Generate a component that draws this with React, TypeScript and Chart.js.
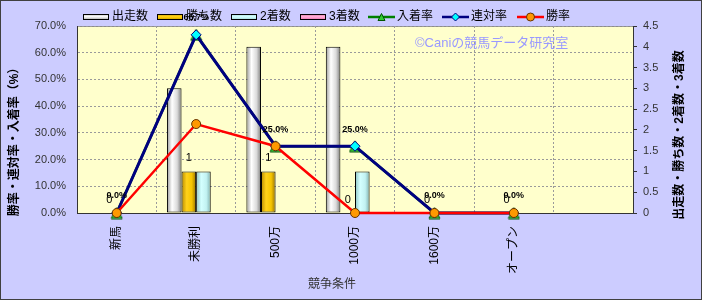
import React, { useEffect, useRef } from 'react';
import { Chart, registerables } from 'chart.js';
Chart.register(...registerables);

// ---- data ----
const categories = ['新馬', '未勝利', '500万', '1000万', '1600万', 'オープン', ''];
const starts = [0, 3, 4, 4, 0, 0];
const wins = [0, 1, 1, 0, 0, 0];
const seconds = [0, 1, 0, 1, 0, 0];
const thirds = [0, 0, 0, 0, 0, 0];
const placeRate = [0, 66.7, 25, 25, 0, 0];
const rentaiRate = [0, 66.7, 25, 25, 0, 0];
const winRate = [0, 33.3, 25, 0, 0, 0];

const barLabels = ['出走数', '勝ち数', '2着数', '3着数'];
const lineLabels = ['入着率', '連対率', '勝率'];
const leftTitle = '勝率・連対率・入着率（%）';
const rightTitle = '出走数・勝ち数・2着数・3着数';
const xTitle = '競争条件';
const watermark = '©Caniの競馬データ研究室';

const FONT = "'Liberation Sans', 'Noto Sans CJK JP', sans-serif";

const barStops: [number, string][][] = [
  [[0, '#9a9a9a'], [0.35, '#ffffff'], [0.7, '#dadada'], [1, '#7c7c7c']],
  [[0, '#b88a00'], [0.35, '#ffd21a'], [0.7, '#f5c400'], [1, '#9a7400']],
  [[0, '#8cc4c4'], [0.35, '#d4ffff'], [0.7, '#c2f2f2'], [1, '#7eb0b0']],
  [[0, '#c0607f'], [0.35, '#ffb0d8'], [0.7, '#ff99cc'], [1, '#b05080']],
];
const lineStyles = [
  { color: '#008000', fill: '#33cc33', border: '#005500', shape: 'triangle' },
  { color: '#000080', fill: '#00ffff', border: '#000080', shape: 'diamond' },
  { color: '#ff0000', fill: '#ff9900', border: '#663300', shape: 'circle' },
];

function drawMarker(ctx: CanvasRenderingContext2D, shape: string, x: number, y: number, r: number, fill: string, stroke: string) {
  ctx.save();
  ctx.beginPath();
  if (shape === 'circle') ctx.arc(x, y, r, 0, Math.PI * 2);
  else if (shape === 'diamond') {
    ctx.moveTo(x, y - r); ctx.lineTo(x + r, y); ctx.lineTo(x, y + r); ctx.lineTo(x - r, y); ctx.closePath();
  } else {
    ctx.moveTo(x, y - r); ctx.lineTo(x + r, y + r); ctx.lineTo(x - r, y + r); ctx.closePath();
  }
  ctx.fillStyle = fill; ctx.fill();
  ctx.lineWidth = 1; ctx.strokeStyle = stroke; ctx.stroke();
  ctx.restore();
}

function makeTriangleImage(): HTMLCanvasElement {
  const c = document.createElement('canvas');
  c.width = 13; c.height = 13;
  const cx = c.getContext('2d')!;
  drawMarker(cx, 'triangle', 6.5, 6.5, 5.5, lineStyles[0].fill, lineStyles[0].border);
  return c;
}

const bgPlugin = {
  id: 'bgPlugin',
  beforeDraw(chart: any) {
    const { ctx, chartArea: a } = chart;
    ctx.save();
    ctx.fillStyle = '#ffffff';
    ctx.fillRect(0, 0, chart.width, chart.height);
    ctx.fillStyle = '#ccccff';
    ctx.fillRect(0, 0, 702, 300);
    ctx.strokeStyle = '#404040';
    ctx.lineWidth = 1;
    ctx.strokeRect(0.5, 0.5, 701, 299);
    ctx.fillStyle = '#ffffcc';
    ctx.fillRect(a.left, a.top, a.right - a.left, a.bottom - a.top);
    ctx.strokeStyle = '#8c8c8c';
    ctx.strokeRect(a.left + 0.5, a.top + 0.5, a.right - a.left, a.bottom - a.top);
    ctx.restore();
  },
};

const barGradPlugin = {
  id: 'barGrad',
  beforeDatasetDraw(chart: any, args: any) {
    const meta = args.meta;
    if (meta.type !== 'bar') return;
    const stops = barStops[args.index];
    meta.data.forEach((el: any) => {
      const { x, width } = el.getProps(['x', 'width'], true);
      const g = chart.ctx.createLinearGradient(x - width / 2, 0, x + width / 2, 0);
      stops.forEach(([o, c]) => g.addColorStop(o, c));
      el.options.backgroundColor = g;
    });
  },
};

const textPlugin = {
  id: 'texts',
  beforeDatasetsDraw(chart: any) {
    const ctx = chart.ctx;
    ctx.save();
    ctx.font = `13px ${FONT}`;
    ctx.fillStyle = '#9999ff';
    ctx.textAlign = 'left';
    ctx.textBaseline = 'middle';
    ctx.fillText(watermark, 415, 43);
    ctx.restore();
  },
  afterDraw(chart: any) {
    const ctx = chart.ctx;
    ctx.save();
    // axis titles
    ctx.fillStyle = '#000';
    ctx.font = `bold 12px ${FONT}`;
    ctx.textAlign = 'center';
    ctx.textBaseline = 'middle';
    ctx.save(); ctx.translate(15, 139); ctx.rotate(-Math.PI / 2); ctx.fillText(leftTitle, 0, 0); ctx.restore();
    ctx.save(); ctx.translate(680, 135); ctx.rotate(-Math.PI / 2); ctx.fillText(rightTitle, 0, 0); ctx.restore();
    ctx.font = `12px ${FONT}`;
    ctx.fillStyle = '#333';
    ctx.fillText(xTitle, 332, 285);

    // legend
    const iconX = [83, 157, 231, 300, 368, 442, 517];
    const ly = 17;
    ctx.font = `12px ${FONT}`;
    ctx.textAlign = 'left';
    ctx.fillStyle = '#000';
    barLabels.forEach((lab, i) => {
      const x0 = iconX[i];
      const g = ctx.createLinearGradient(0, ly - 3, 0, ly + 3);
      barStops[i].forEach(([o, c]) => g.addColorStop(o, c));
      ctx.fillStyle = g;
      ctx.fillRect(x0, ly - 3, 26, 6);
      ctx.strokeStyle = '#000';
      ctx.lineWidth = 1;
      ctx.strokeRect(x0 + 0.5, ly - 2.5, 25, 5);
      ctx.fillStyle = '#000';
      ctx.fillText(lab, x0 + 29, ly);
    });
    lineLabels.forEach((lab, j) => {
      const x0 = iconX[4 + j];
      const s = lineStyles[j];
      ctx.strokeStyle = s.color;
      ctx.lineWidth = 2.5;
      ctx.beginPath(); ctx.moveTo(x0, ly); ctx.lineTo(x0 + 27, ly); ctx.stroke();
      drawMarker(ctx, s.shape, x0 + 13.5, ly, s.shape === 'triangle' ? 3.5 : 4, s.fill, s.border);
      ctx.fillStyle = '#000';
      ctx.fillText(lab, x0 + 29, ly);
    });

    // data labels
    ctx.textAlign = 'center';
    ctx.textBaseline = 'middle';
    ctx.fillStyle = '#000';
    const winMeta = chart.getDatasetMeta(1);
    ctx.font = `11px ${FONT}`;
    winMeta.data.forEach((el: any, i: number) => {
      if (wins[i] == null) return;
      ctx.fillText(String(wins[i]), el.x, el.y - 13.5);
    });
    const rMeta = chart.getDatasetMeta(5);
    ctx.font = `bold 9px ${FONT}`;
    rMeta.data.forEach((el: any, i: number) => {
      if (rentaiRate[i] == null) return;
      ctx.fillText(rentaiRate[i].toFixed(1) + '%', el.x, el.y - 17);
    });
    ctx.restore();
  },
};

export default function App() {
  const ref = useRef<HTMLCanvasElement>(null);
  useEffect(() => {
    document.body.style.margin = '0';
    const tri = makeTriangleImage();
    const barDs = [starts, wins, seconds, thirds].map((d, i) => ({
      type: 'bar' as const,
      label: barLabels[i],
      data: d,
      yAxisID: 'y1',
      backgroundColor: () => '#ffffff',
      borderColor: '#000000',
      borderWidth: 1,
      borderSkipped: false,
      barPercentage: 1,
      categoryPercentage: 0.735,
      order: 10,
    }));
    const lineData = [placeRate, rentaiRate, winRate];
    const lineDs = lineData.map((d, j) => {
      const s = lineStyles[j];
      return {
        type: 'line' as const,
        label: lineLabels[j],
        data: d,
        yAxisID: 'y',
        borderColor: s.color,
        borderWidth: j === 1 ? 3 : 2.5,
        pointStyle: j === 0 ? tri : s.shape === 'diamond' ? 'rectRot' : s.shape,
        pointRadius: j === 0 ? 6 : j === 1 ? 5 : 4.5,
        pointBackgroundColor: s.fill,
        pointBorderColor: s.border,
        pointBorderWidth: 1,
        tension: 0,
        fill: false,
        clip: false,
        order: 3 - j,
      };
    });
    const chart = new Chart(ref.current!, {
      type: 'bar',
      data: { labels: categories, datasets: [...barDs, ...lineDs] as any },
      options: {
        responsive: false,
        animation: false,
        devicePixelRatio: 1,
        events: [],
        layout: { padding: { top: 26, left: 0, right: 0, bottom: 0 } },
        plugins: { legend: { display: false }, tooltip: { enabled: false } },
        scales: {
          x: {
            offset: true,
            grid: { offset: true, color: '#9a9a9a', drawTicks: false },
            border: { display: true, color: '#333', dash: [2, 2] },
            ticks: {
              autoSkip: false, minRotation: 90, maxRotation: 90, padding: 13,
              color: '#000', font: { family: FONT, size: 12 },
            },
            afterFit: (s: any) => { s.height = 88; },
          },
          y: {
            position: 'left',
            min: 0, max: 70,
            grid: { color: '#9a9a9a', drawTicks: false },
            border: { display: true, color: '#333', dash: [2, 2] },
            ticks: {
              stepSize: 10, padding: 11, color: '#333',
              font: { family: FONT, size: 11 },
              callback: (v: any) => Number(v).toFixed(1) + '%',
            },
            afterFit: (s: any) => { s.width = 77; },
          },
          y1: {
            position: 'right',
            min: 0, max: 4.5,
            grid: { display: true, drawOnChartArea: false, drawTicks: true, tickLength: 4, tickColor: '#333' },
            border: { display: true, color: '#333' },
            ticks: {
              stepSize: 0.5, padding: 6, color: '#333',
              font: { family: FONT, size: 11 },
              callback: (v: any) => String(v),
            },
            afterFit: (s: any) => { s.width = 70; },
          },
        },
      },
      plugins: [bgPlugin, barGradPlugin, textPlugin],
    });
    return () => chart.destroy();
  }, []);
  return (
    <div style={{ position: 'absolute', left: 0, top: 0, width: 703, height: 301 }}>
      <canvas ref={ref} width={703} height={301} style={{ display: 'block', width: 703, height: 301 }} />
    </div>
  );
}
